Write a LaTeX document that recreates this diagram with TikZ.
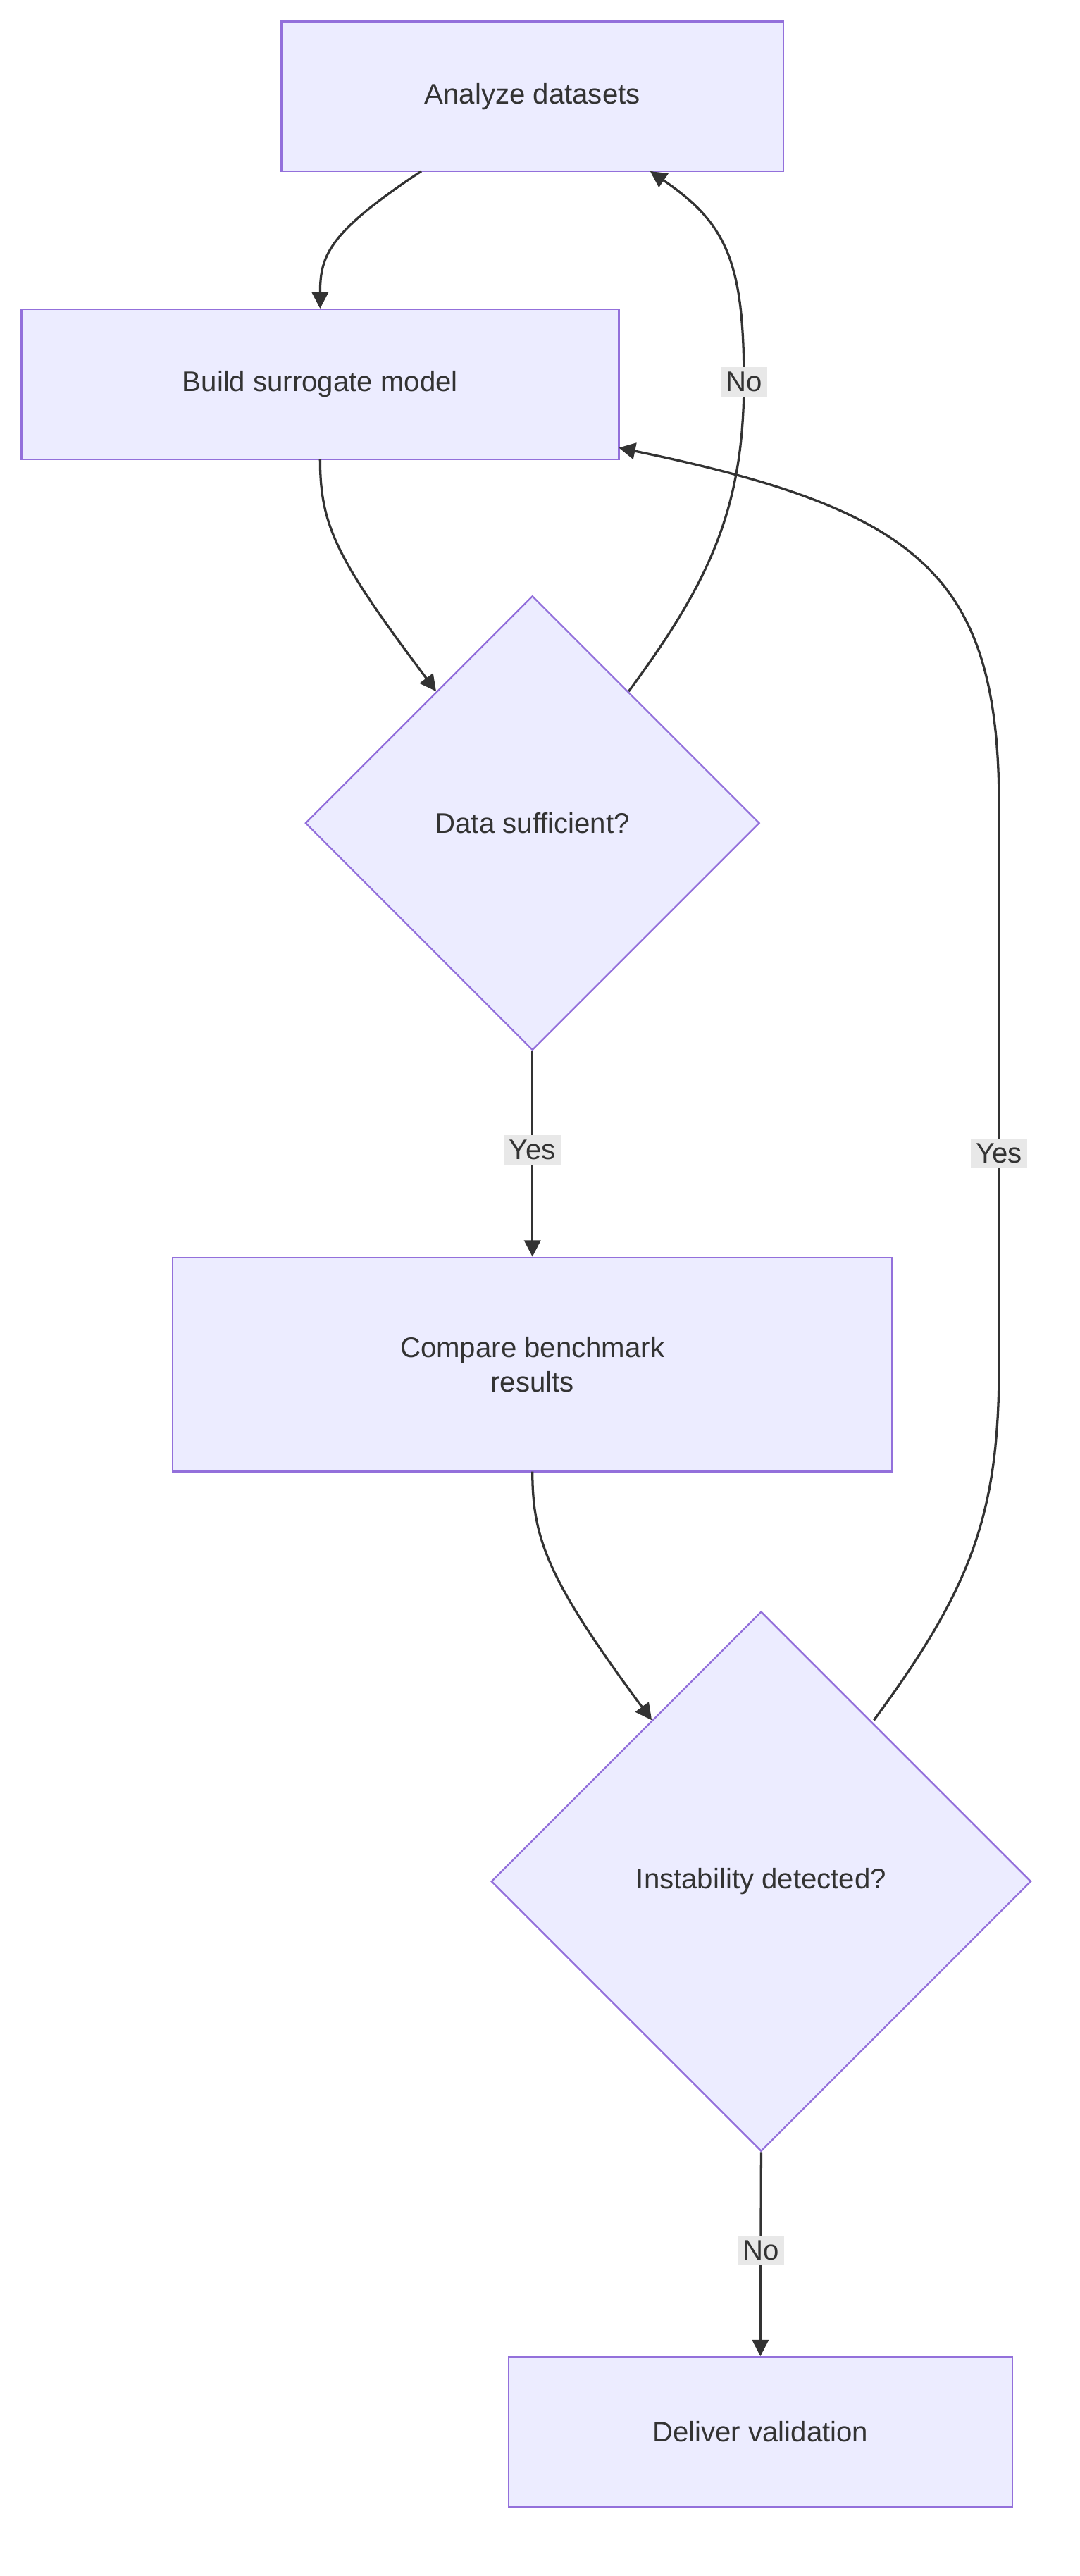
\documentclass[tikz,border=0pt]{standalone}
\usepackage{fontspec}
\setmainfont{Liberation Sans}
\usetikzlibrary{shapes.geometric,arrows.meta}
\definecolor{nfill}{HTML}{ECECFF}
\definecolor{nstroke}{HTML}{9370DB}
\definecolor{txt}{HTML}{333333}
\definecolor{lbg}{HTML}{E8E8E8}
\begin{document}
\begin{tikzpicture}[x=0.5pt,y=-0.5pt,
  every node/.style={text=txt,font=\fontsize{8.6pt}{10.4pt}\selectfont},
  box/.style={draw=nstroke,fill=nfill,line width=0.5pt,inner sep=0pt,align=center},
  dia/.style={draw=nstroke,fill=nfill,line width=0.5pt,diamond,inner sep=0pt,aspect=1},
  lbl/.style={fill=lbg,inner sep=1.5pt},
  conn/.style={draw=txt,line width=0.7pt,-{Triangle[length=5pt,width=5pt]}}]
\useasboundingbox (0,0) rectangle (656,1565);
\node[box,minimum width=152.5pt,minimum height=45.5pt] (A) at (323.5,58.5) {Analyze datasets};
\node[box,minimum width=181.5pt,minimum height=45.5pt] (B) at (194.5,233.5) {Build surrogate model};
\node[dia,minimum width=138pt,minimum height=138pt] (D1) at (323.5,500) {Data sufficient?};
\node[box,minimum width=218.5pt,minimum height=65pt] (C) at (323.5,829) {Compare benchmark\\results};
\node[dia,minimum width=164pt,minimum height=164pt] (D2) at (462.5,1143) {Instability detected?};
\node[box,minimum width=153pt,minimum height=45.5pt] (E) at (462,1477.5) {Deliver validation};
\coordinate (a1) at (256,104);
\coordinate (a2) at (395,104);
\coordinate (b1) at (194.5,279);
\coordinate (b2) at (376,272);
\coordinate (d1a) at (265,420);
\coordinate (d1b) at (382,420);
\coordinate (c1) at (323.5,894);
\coordinate (d2a) at (396,1045);
\coordinate (d2b) at (531,1045);
\draw[conn] (a1) .. controls (200,141) and (194.5,155) .. (B.north);
\draw[conn] (b1) .. controls (194.5,320) and (205,340) .. (d1a);
\draw[conn] (d1b) .. controls (430,355) and (452,310) .. (452,232) node[lbl]{No} .. controls (452,160) and (442,136) .. (a2);
\draw[conn] (D1.south) -- node[lbl,pos=0.48]{Yes} (C.north);
\draw[conn] (c1) .. controls (323.5,935) and (333,960) .. (d2a);
\draw[conn] (d2b) .. controls (590,965) and (607,920) .. (607,830) -- node[lbl,pos=0.38]{Yes} (607,490) .. controls (607,350) and (560,310) .. (b2);
\draw[conn] (D2.south) -- node[lbl,pos=0.48]{No} (E.north);
\end{tikzpicture}
\end{document}
